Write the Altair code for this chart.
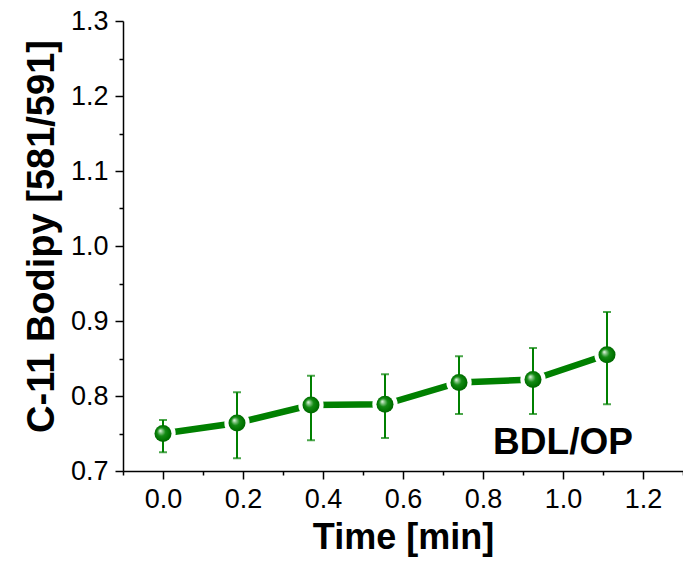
import altair as alt
import pandas as pd

# data
time_min = [0.0, 0.185, 0.37, 0.555, 0.74, 0.925, 1.11]
ratio = [0.750, 0.764, 0.788, 0.789, 0.818, 0.822, 0.855]
err_low = [0.725, 0.717, 0.741, 0.744, 0.776, 0.776, 0.789]
err_high = [0.768, 0.805, 0.827, 0.829, 0.853, 0.864, 0.912]

x_major = [0.0, 0.2, 0.4, 0.6, 0.8, 1.0, 1.2]
x_minor = [-0.1, 0.1, 0.3, 0.5, 0.7, 0.9, 1.1, 1.3]
y_major = [0.7, 0.8, 0.9, 1.0, 1.1, 1.2, 1.3]
y_minor = [0.75, 0.85, 0.95, 1.05, 1.15, 1.25]

label_text = ["BDL/OP"]
label_x = [1.0]
label_y = [0.7233]

df = pd.DataFrame({"t": time_min, "r": ratio, "lo": err_low, "hi": err_high})
lab = pd.DataFrame({"x": label_x, "y": label_y, "txt": label_text})

GREEN = "#008000"
FONT = "Liberation Sans"

xscale = alt.Scale(domain=[-0.1, 1.3], nice=False, zero=False)
yscale = alt.Scale(domain=[0.7, 1.3], nice=False, zero=False)

x_main = alt.X("t:Q", scale=xscale, title="Time [min]",
               axis=alt.Axis(orient="bottom", values=x_major, format=".1f", tickSize=8,
                             tickWidth=1.5, domainWidth=1.5, domainColor="black",
                             tickColor="black", labelPadding=7, grid=False,
                             titleX=280, titleY=77, titleAlign="center",
                             titleBaseline="alphabetic", titleAngle=0,
                             titleFontSize=36))
y_main = alt.Y("r:Q", scale=yscale, title="C-11 Bodipy [581/591]",
               axis=alt.Axis(orient="left", values=y_major, format=".1f", tickSize=8,
                             tickWidth=1.5, domainWidth=1.5, domainColor="black",
                             tickColor="black", labelPadding=7, grid=False,
                             titleX=-70, titleY=215, titleAlign="center",
                             titleBaseline="alphabetic", titleAngle=270,
                             titleFontSize=38))

x_min = alt.X("t:Q", scale=xscale, title=None,
              axis=alt.Axis(orient="bottom", values=x_minor, tickSize=4, tickWidth=1.5,
                            tickColor="black", labels=False, domain=False, grid=False))
y_min = alt.Y("lo:Q", scale=yscale, title=None,
              axis=alt.Axis(orient="left", values=y_minor, tickSize=4, tickWidth=1.5,
                            tickColor="black", labels=False, domain=False, grid=False))

xn = alt.X("t:Q", scale=xscale, axis=None)
yn = alt.Y("r:Q", scale=yscale, axis=None)

base = alt.Chart(df)

line = base.mark_line(color=GREEN, strokeWidth=6.5).encode(x=x_main, y=y_main)

gap = base.mark_point(filled=True, color="white", opacity=1, size=640, shape="circle").encode(
    x=xn, y=yn)

bars = base.mark_rule(color=GREEN, strokeWidth=2).encode(x=x_min, y=y_min, y2="hi:Q")
cap_lo = base.mark_tick(color=GREEN, orient="horizontal", size=8, thickness=2).encode(
    x=xn, y=alt.Y("lo:Q", scale=yscale, axis=None))
cap_hi = base.mark_tick(color=GREEN, orient="horizontal", size=8, thickness=2).encode(
    x=xn, y=alt.Y("hi:Q", scale=yscale, axis=None))

grad = alt.RadialGradient(
    gradient="radial",
    stops=[
        alt.GradientStop(offset=0.0, color="#f4fff4"),
        alt.GradientStop(offset=0.18, color="#8cc98c"),
        alt.GradientStop(offset=0.45, color="#138a13"),
        alt.GradientStop(offset=0.8, color="#007200"),
        alt.GradientStop(offset=1.0, color="#005c00"),
    ],
    x1=0.33, y1=0.33, r1=0.0, x2=0.5, y2=0.5, r2=0.55,
)
pts = base.mark_point(filled=True, fill=grad, opacity=1, size=290, shape="circle",
                      strokeWidth=0).encode(x=xn, y=yn)

txt = alt.Chart(lab).mark_text(font=FONT, fontWeight="bold", fontSize=37, color="black",
                               align="center", baseline="alphabetic").encode(
    x=alt.X("x:Q", scale=xscale, axis=None), y=alt.Y("y:Q", scale=yscale, axis=None),
    text="txt:N")

chart = alt.layer(line, gap, bars, cap_lo, cap_hi, pts, txt).resolve_axis(
    x="independent", y="independent"
).properties(
    width=560, height=450,
    autosize=alt.AutoSizeParams(type="none"),
    padding={"left": 115, "top": 13, "right": 0, "bottom": 88},
).configure_view(stroke=None).configure_axis(
    labelFont=FONT, labelFontSize=27, labelColor="black",
    titleFont=FONT, titleFontSize=35, titleFontWeight="bold", titleColor="black",
)

chart.save("out.html", embed_options={"renderer": "svg", "actions": False})
